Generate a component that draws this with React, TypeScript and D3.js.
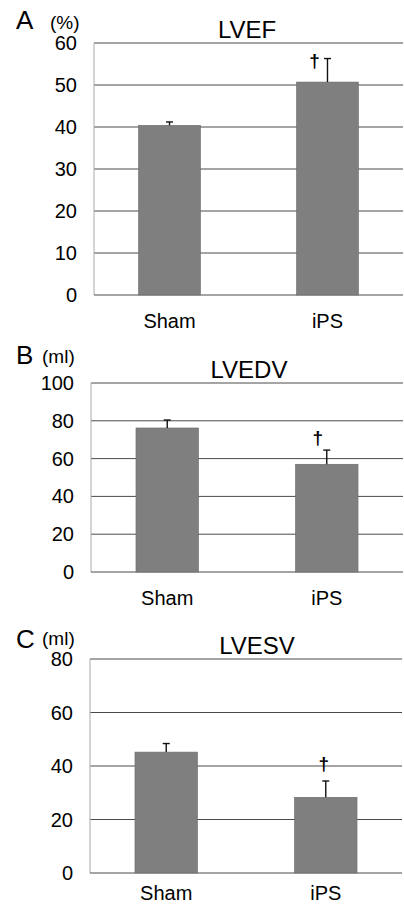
import React, { useRef, useEffect } from 'react';
import * as d3 from 'd3';

// groups and values (mean and SD)
const categories = ['Sham', 'iPS'];
const significant = [false, true]; // dagger marks

const lvefMean = [40.4, 50.7];
const lvefErr = [0.8, 5.6];
const lvefTicks = [0, 10, 20, 30, 40, 50, 60];

const lvedvMean = [76.2, 57.0];
const lvedvErr = [4.2, 7.5];
const lvedvTicks = [0, 20, 40, 60, 80, 100];

const lvesvMean = [45.2, 28.3];
const lvesvErr = [3.2, 6.1];
const lvesvTicks = [0, 20, 40, 60, 80];

const FONT = '"Liberation Sans", Arial, Helvetica, sans-serif';

// layout of each panel on the page
const panels = [
  {
    letter: 'A', unit: '(%)', title: 'LVEF', mean: lvefMean, err: lvefErr, ticks: lvefTicks,
    x0: 94, x1: 403, top: 43, bottom: 295, letterY: 29, unitX: 50, unitY: 29,
    titleX: 247, titleY: 38, labelY: 328, daggerDx: -13, daggerDy: 2,
  },
  {
    letter: 'B', unit: '(ml)', title: 'LVEDV', mean: lvedvMean, err: lvedvErr, ticks: lvedvTicks,
    x0: 91, x1: 403, top: 383, bottom: 572, letterY: 364, unitX: 42, unitY: 363,
    titleX: 249, titleY: 378, labelY: 605, daggerDx: -9, daggerDy: -13,
  },
  {
    letter: 'C', unit: '(ml)', title: 'LVESV', mean: lvesvMean, err: lvesvErr, ticks: lvesvTicks,
    x0: 90, x1: 402, top: 659, bottom: 873, letterY: 648, unitX: 42, unitY: 645,
    titleX: 257, titleY: 654, labelY: 900, daggerDx: -2, daggerDy: -18,
  },
];

const App = () => {
  const ref = useRef<SVGSVGElement>(null);

  useEffect(() => {
    const svg = d3.select(ref.current);
    svg.selectAll('*').remove();

    panels.forEach((p) => {
      const g = svg.append('g');
      const yMax = p.ticks[p.ticks.length - 1];

      const x = d3.scaleBand()
        .domain(categories)
        .range([p.x0, p.x1])
        .paddingInner(0.608)
        .paddingOuter(0.282);

      const y = d3.scaleLinear()
        .domain([0, yMax])
        .range([p.bottom, p.top]);

      // gridlines
      g.selectAll('.grid')
        .data(p.ticks.filter((t) => t > 0))
        .enter().append('line')
        .attr('x1', p.x0).attr('x2', p.x1)
        .attr('y1', (d) => y(d)).attr('y2', (d) => y(d))
        .attr('stroke', '#4a4a4a').attr('stroke-width', 1);

      // left frame and baseline
      g.append('line')
        .attr('x1', p.x0).attr('x2', p.x0)
        .attr('y1', y(yMax)).attr('y2', y(0))
        .attr('stroke', '#aaa').attr('stroke-width', 1);
      g.append('line')
        .attr('x1', p.x0).attr('x2', p.x1)
        .attr('y1', y(0)).attr('y2', y(0))
        .attr('stroke', '#4a4a4a').attr('stroke-width', 1);

      // tick labels
      g.selectAll('.tick')
        .data(p.ticks)
        .enter().append('text')
        .attr('x', p.x0 - 17)
        .attr('y', (d) => y(d))
        .attr('dy', '0.35em')
        .attr('text-anchor', 'end')
        .attr('font-family', FONT).attr('font-size', 20)
        .attr('fill', '#000')
        .text((d) => d);

      // bars
      g.selectAll('.bar')
        .data(categories)
        .enter().append('rect')
        .attr('x', (d) => x(d)!)
        .attr('y', (d, i) => y(p.mean[i]))
        .attr('width', x.bandwidth())
        .attr('height', (d, i) => y(0) - y(p.mean[i]))
        .attr('fill', '#7f7f7f')
        .attr('stroke', '#6a6a6a').attr('stroke-width', 0.6);

      // error bars (upper only)
      categories.forEach((c, i) => {
        const cx = x(c)! + x.bandwidth() / 2;
        const yt = y(p.mean[i] + p.err[i]);
        g.append('line')
          .attr('x1', cx).attr('x2', cx)
          .attr('y1', y(p.mean[i])).attr('y2', yt)
          .attr('stroke', '#111').attr('stroke-width', 1.4);
        g.append('line')
          .attr('x1', cx - 3.5).attr('x2', cx + 3.5)
          .attr('y1', yt).attr('y2', yt)
          .attr('stroke', '#111').attr('stroke-width', 1.4);
        if (significant[i]) {
          g.append('text')
            .attr('x', cx + p.daggerDx)
            .attr('y', yt + p.daggerDy)
            .attr('dy', '0.35em')
            .attr('text-anchor', 'middle')
            .attr('font-family', FONT).attr('font-size', 19).attr('font-weight', 'bold')
            .attr('fill', '#000')
            .text('\u2020');
        }
      });

      // category labels
      g.selectAll('.cat')
        .data(categories)
        .enter().append('text')
        .attr('x', (d) => x(d)! + x.bandwidth() / 2)
        .attr('y', p.labelY)
        .attr('text-anchor', 'middle')
        .attr('font-family', FONT).attr('font-size', 20)
        .attr('fill', '#000')
        .text((d) => d);

      // title, panel letter, unit
      g.append('text')
        .attr('x', p.titleX).attr('y', p.titleY)
        .attr('text-anchor', 'middle')
        .attr('font-family', FONT).attr('font-size', 24)
        .attr('fill', '#000')
        .text(p.title);
      g.append('text')
        .attr('x', 16).attr('y', p.letterY)
        .attr('font-family', FONT).attr('font-size', 26)
        .attr('fill', '#000')
        .text(p.letter);
      g.append('text')
        .attr('x', p.unitX).attr('y', p.unitY)
        .attr('font-family', FONT).attr('font-size', 19)
        .attr('fill', '#000')
        .text(p.unit);
    });
  }, []);

  return (
    <div style={{ position: 'absolute', left: 0, top: 0, width: 404, height: 906, background: '#fff' }}>
      <svg ref={ref} width={404} height={906} style={{ display: 'block' }} />
    </div>
  );
};

export default App;
